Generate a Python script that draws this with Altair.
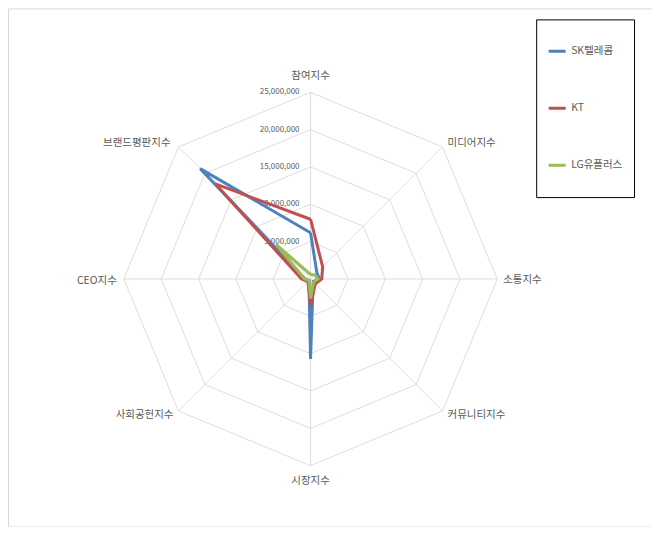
import altair as alt
import pandas as pd

# ---- data ----
categories = ["참여지수", "미디어지수", "소통지수", "커뮤니티지수",
              "시장지수", "사회공헌지수", "CEO지수", "브랜드평판지수"]
series_names = ["SK텔레콤", "KT", "LG유플러스"]
sk_values = [6200000, 1200000, 1200000, 500000, 10700000, 300000, 700000, 20900000]
kt_values = [8000000, 2300000, 1500000, 900000, 3600000, 500000, 1200000, 18000000]
lg_values = [600000, 800000, 1000000, 600000, 2600000, 300000, 800000, 6500000]
series_colors = ["#4F81BD", "#C0504D", "#9BBB59"]
tick_values = [5000000, 10000000, 15000000, 20000000, 25000000]
axis_max = 25000000

FONT = "Noto Sans CJK KR"
TEXT_COLOR = "#595959"
GRID_COLOR = "#d9d9d9"

# ---- tables ----
rows = []
for name, vals in zip(series_names, [sk_values, kt_values, lg_values]):
    for i in range(len(categories) + 1):
        rows.append({"series": name, "idx": i, "value": vals[i % len(categories)]})
series_df = pd.DataFrame(rows)

grid_df = pd.DataFrame([{"tick": t, "idx": i, "value": t}
                        for t in tick_values for i in range(len(categories) + 1)])
spoke_df = pd.DataFrame([{"idx": i, "value": axis_max} for i in range(len(categories))])
tick_df = pd.DataFrame({"tick": tick_values})
cat_df = pd.DataFrame({"idx": list(range(len(categories))), "cat": categories,
                       "value": [axis_max] * len(categories)})

W, H = 645, 519
px = axis_max / 187.0
cx, cy = 303, 271
xdom = [-cx * px, (W - cx) * px]
ydom = [-(H - cy) * px, cy * px]

xs = alt.Scale(domain=xdom, nice=False, zero=False)
ys = alt.Scale(domain=ydom, nice=False, zero=False)

polar = dict(x="datum.value * sin(datum.idx * PI / 4)",
             y="datum.value * cos(datum.idx * PI / 4)")

grid = alt.Chart(grid_df).transform_calculate(**polar).mark_line(
    color=GRID_COLOR, strokeWidth=0.9
).encode(
    x=alt.X("x:Q", scale=xs, axis=None),
    y=alt.Y("y:Q", scale=ys, axis=None),
    detail="tick:N",
    order="idx:Q",
)

spokes = alt.Chart(spoke_df).transform_calculate(
    x0="0", y0="0", **polar
).mark_rule(color=GRID_COLOR, strokeWidth=0.9).encode(
    x=alt.X("x0:Q", scale=xs, axis=None),
    y=alt.Y("y0:Q", scale=ys, axis=None),
    x2="x:Q",
    y2="y:Q",
)

tick_labels = alt.Chart(tick_df).transform_calculate(x0="0").mark_text(
    align="right", baseline="middle", dx=-11, fontSize=8, font=FONT, color=TEXT_COLOR
).encode(
    x=alt.X("x0:Q", scale=xs, axis=None),
    y=alt.Y("tick:Q", scale=ys, axis=None),
    text=alt.Text("tick:Q", format=","),
)

label_style = [
    ("center", 0, -16),
    ("left", 5, -4),
    ("left", 6, 1),
    ("left", 5, 4),
    ("center", 0, 15),
    ("right", -5, 4),
    ("right", -7, 2),
    ("right", -8, -4),
]
cat_layers = []
for i, (al, ddx, ddy) in enumerate(label_style):
    cat_layers.append(
        alt.Chart(cat_df).transform_filter(f"datum.idx == {i}").transform_calculate(**polar)
        .mark_text(align=al, baseline="middle", dx=ddx, dy=ddy, fontSize=10.5,
                   font=FONT, color=TEXT_COLOR)
        .encode(
            x=alt.X("x:Q", scale=xs, axis=None),
            y=alt.Y("y:Q", scale=ys, axis=None),
            text="cat:N",
        )
    )

lines = alt.Chart(series_df).transform_calculate(**polar).mark_line(
    strokeWidth=3
).encode(
    x=alt.X("x:Q", scale=xs, axis=None),
    y=alt.Y("y:Q", scale=ys, axis=None),
    color=alt.Color(
        "series:N",
        scale=alt.Scale(domain=series_names, range=series_colors),
        sort=series_names,
        legend=alt.Legend(
            title=None, orient="none", legendX=529, legendY=11,
            strokeColor="#000000", fillColor="white", padding=11,
            symbolType="stroke", symbolSize=289, symbolStrokeWidth=3,
            labelFontSize=10.5, labelFont=FONT, labelColor=TEXT_COLOR,
            labelOffset=4, clipHeight=42, rowPadding=15,
        ),
    ),
    order="idx:Q",
)

chart = alt.layer(grid, spokes, tick_labels, *cat_layers, lines).properties(
    width=W, height=H, autosize=alt.AutoSizeParams(type="none"), padding=0,
    background="white",
).configure_view(stroke="#d9d9d9", strokeWidth=1)

chart.save("out.html", embed_options={"renderer": "svg", "actions": False})
